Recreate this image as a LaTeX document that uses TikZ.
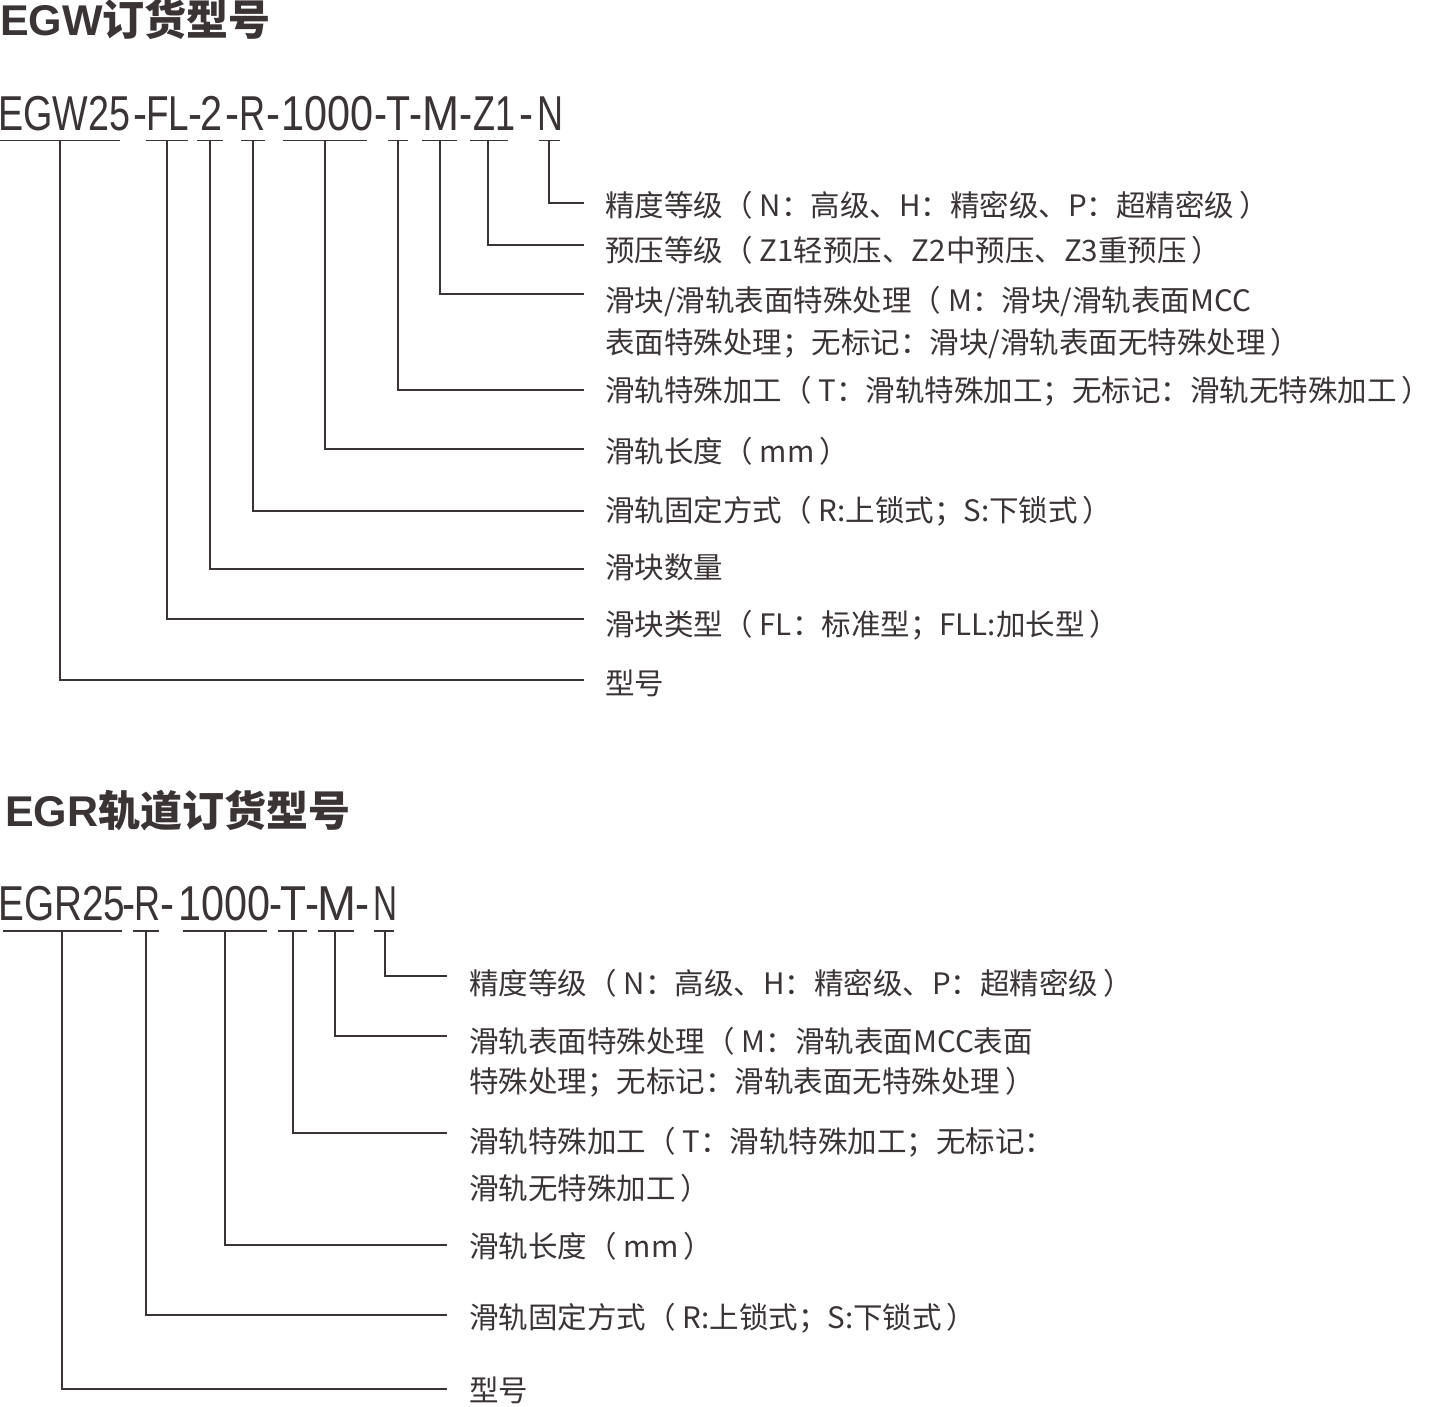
\documentclass[tikz,border=0pt]{standalone}
\usepackage{fontspec}
\usepackage{graphicx}
\newfontfamily\cjk{Noto Sans CJK SC}
\newfontfamily\codefont{Liberation Sans}
\definecolor{ink}{HTML}{3B3435}
\newcommand\tk[2]{\resizebox{#1pt}{\height}{\codefont\fontsize{49}{49}\selectfont #2}}
\newcommand\lp{（\hspace{7pt}}
\newcommand\rp{\hspace{5pt}）}
\begin{document}
\begin{tikzpicture}[x=1pt,y=-1pt,
  lbl/.style={anchor=base west, inner sep=0pt, text=ink, font=\cjk\fontsize{29.5}{30}\selectfont},
  code/.style={anchor=base west, inner sep=0pt, text=ink},
  head/.style={anchor=base west, inner sep=0pt, text=ink},
  ln/.style={draw=ink, line width=1.5pt}]
\useasboundingbox[fill=white] (0,0) rectangle (1429,1406);

% ---------- headings ----------
\node[head] (h1) at (0,35) {\codefont\bfseries\fontsize{43}{43}\selectfont EGW\cjk\bfseries\fontsize{42}{42}\selectfont 订货型号};
\node[head] (h2) at (5,826) {\codefont\bfseries\fontsize{43}{43}\selectfont EGR\cjk\bfseries\fontsize{42}{42}\selectfont 轨道订货型号};

% ---------- top code ----------
\node[code] (aEGW) at (-2,130) {\tk{132}{EGW25}};
\node[code] (ad1) at (133,130) {\tk{14}{-}};
\node[code] (aFL) at (146,130) {\tk{43}{FL}};
\node[code] (ad2) at (188,130) {\tk{14}{-}};
\node[code] (a2) at (200,130) {\tk{22}{2}};
\node[code] (ad3) at (225,130) {\tk{14}{-}};
\node[code] (aR) at (239,130) {\tk{26}{R}};
\node[code] (ad4) at (266,130) {\tk{14}{-}};
\node[code] (aL) at (281,130) {\tk{92}{1000}};
\node[code] (ad5) at (374,130) {\tk{13}{-}};
\node[code] (aT) at (386,130) {\tk{24}{T}};
\node[code] (ad6) at (409,130) {\tk{13}{-}};
\node[code] (aM) at (422,130) {\tk{37}{M}};
\node[code] (ad7) at (459,130) {\tk{13}{-}};
\node[code] (aZ) at (473,130) {\tk{42}{Z1}};
\node[code] (ad8) at (519,130) {\tk{14}{-}};
\node[code] (aN) at (537,130) {\tk{26}{N}};

% underlines (top)
\draw[ln] (0,140.5) -- (120,140.5);
\draw[ln] (146,140.5) -- (188,140.5);
\draw[ln] (197,140.5) -- (223,140.5);
\draw[ln] (241,140.5) -- (265,140.5);
\draw[ln] (283,140.5) -- (367,140.5);
\draw[ln] (388,140.5) -- (408,140.5);
\draw[ln] (422,140.5) -- (457,140.5);
\draw[ln] (470,140.5) -- (508,140.5);
\draw[ln] (539,140.5) -- (560,140.5);

% labels (top)
\node[lbl] (bN) at (605,216) {精度等级\lp N：高级、H：精密级、P：超精密级\rp};
\node[lbl] (bZ) at (605,261) {预压等级\lp Z1轻预压、Z2中预压、Z3重预压\rp};
\node[lbl] (bM) at (605,311) {滑块/滑轨表面特殊处理\lp M：滑块/滑轨表面MCC};
\node[lbl] (bM2) at (605,353) {表面特殊处理；无标记：滑块/滑轨表面无特殊处理\rp};
\node[lbl] (bT) at (605,401) {滑轨特殊加工\lp T：滑轨特殊加工；无标记：滑轨无特殊加工\rp};
\node[lbl] (bL) at (605,462) {滑轨长度\lp mm\rp};
\node[lbl] (bR) at (605,521) {滑轨固定方式\lp R:上锁式；S:下锁式\rp};
\node[lbl] (b2) at (605,578) {滑块数量};
\node[lbl] (bFL) at (605,635) {滑块类型\lp FL：标准型；FLL:加长型\rp};
\node[lbl] (bEGW) at (605,694) {型号};

% connectors (top)
\coordinate (uN) at (549,140.5);   \coordinate (eN) at (584,203);
\coordinate (uZ) at (488,140.5);   \coordinate (eZ) at (584,245);
\coordinate (uM) at (440,140.5);   \coordinate (eM) at (584,294);
\coordinate (uT) at (398,140.5);   \coordinate (eT) at (584,390);
\coordinate (uL) at (325,140.5);   \coordinate (eL) at (584,449);
\coordinate (uR) at (253,140.5);   \coordinate (eR) at (584,511);
\coordinate (u2) at (210,140.5);   \coordinate (e2) at (584,569);
\coordinate (uFL) at (167,140.5);  \coordinate (eFL) at (584,619);
\coordinate (uEGW) at (60,140.5);  \coordinate (eEGW) at (584,680);
\draw[ln] (uN) |- (eN);
\draw[ln] (uZ) |- (eZ);
\draw[ln] (uM) |- (eM);
\draw[ln] (uT) |- (eT);
\draw[ln] (uL) |- (eL);
\draw[ln] (uR) |- (eR);
\draw[ln] (u2) |- (e2);
\draw[ln] (uFL) |- (eFL);
\draw[ln] (uEGW) |- (eEGW);

% ---------- bottom code ----------
\node[code] (cEGR) at (-2,920) {\tk{127}{EGR25}};
\node[code] (cd1) at (122,920) {\tk{13}{-}};
\node[code] (cR) at (134,920) {\tk{26}{R}};
\node[code] (cd2) at (160,920) {\tk{14}{-}};
\node[code] (cL) at (178,920) {\tk{92}{1000}};
\node[code] (cd3) at (269,920) {\tk{13}{-}};
\node[code] (cT) at (280,920) {\tk{26}{T}};
\node[code] (cd4) at (305,920) {\tk{14}{-}};
\node[code] (cM) at (317,920) {\tk{39}{M}};
\node[code] (cd5) at (355,920) {\tk{14}{-}};
\node[code] (cN) at (373,920) {\tk{24}{N}};

% underlines (bottom)
\draw[ln] (3,931) -- (122,931);
\draw[ln] (133,931) -- (159,931);
\draw[ln] (183,931) -- (267,931);
\draw[ln] (278,931) -- (307,931);
\draw[ln] (318,931) -- (354,931);
\draw[ln] (374,931) -- (394,931);

% labels (bottom)
\node[lbl] (dN) at (469,994) {精度等级\lp N：高级、H：精密级、P：超精密级\rp};
\node[lbl] (dM) at (469,1052) {滑轨表面特殊处理\lp M：滑轨表面MCC表面};
\node[lbl] (dM2) at (469,1092) {特殊处理；无标记：滑轨表面无特殊处理\rp};
\node[lbl] (dT) at (469,1152) {滑轨特殊加工\lp T：滑轨特殊加工；无标记：};
\node[lbl] (dT2) at (469,1199) {滑轨无特殊加工\rp};
\node[lbl] (dL) at (469,1257) {滑轨长度\lp mm\rp};
\node[lbl] (dR) at (469,1328) {滑轨固定方式\lp R:上锁式；S:下锁式\rp};
\node[lbl] (dEGR) at (469,1401) {型号};

% connectors (bottom)
\coordinate (vN) at (385,931);   \coordinate (fN) at (447,976);
\coordinate (vM) at (335,931);   \coordinate (fM) at (447,1036);
\coordinate (vT) at (293,931);   \coordinate (fT) at (447,1133);
\coordinate (vL) at (225,931);   \coordinate (fL) at (447,1245);
\coordinate (vR) at (146,931);   \coordinate (fR) at (447,1315);
\coordinate (vEGR) at (62,931);  \coordinate (fEGR) at (447,1389);
\draw[ln] (vN) |- (fN);
\draw[ln] (vM) |- (fM);
\draw[ln] (vT) |- (fT);
\draw[ln] (vL) |- (fL);
\draw[ln] (vR) |- (fR);
\draw[ln] (vEGR) |- (fEGR);
\end{tikzpicture}
\end{document}
